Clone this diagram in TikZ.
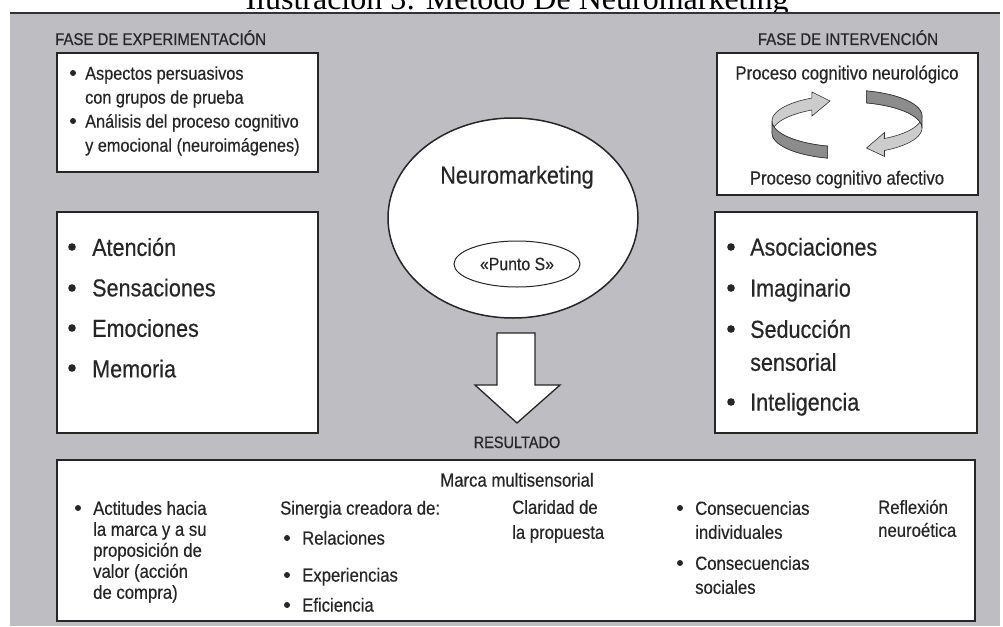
\documentclass[tikz,border=0pt]{standalone}
\usepackage{fontspec}
\setmainfont{Liberation Sans}[FakeStretch=0.88, FakeBold=0.4]
\newfontfamily\titfont{Liberation Serif}
\usepackage{tikz}
\usetikzlibrary{shapes.geometric}
\definecolor{panel}{RGB}{189,189,194}
\tikzset{hd/.style={font=\fontsize{17}{17}\selectfont, inner sep=0pt, text=black!85}}
\tikzset{lg/.style={font=\fontsize{24.5}{40.5}\selectfont, inner sep=0pt, align=left, text=black!85}}
\tikzset{md/.style={font=\fontsize{18.5}{24}\selectfont, inner sep=0pt, align=left, text=black!85}}
\tikzset{sm/.style={font=\fontsize{19}{24}\selectfont, inner sep=0pt, align=left, text=black!85}}
\tikzset{bx/.style={draw=black!85, line width=1.6pt, fill=white}}
\tikzset{rib/.style={draw=black!80, line width=0.6pt}}

\begin{document}
\begin{tikzpicture}[x=1pt,y=-1pt]
      \useasboundingbox (0,0) rectangle (1003,626);
      \node[font=\titfont\fontsize{32}{32}\selectfont, anchor=base] (tit) at (517,10)
        {Ilustración 3: Método De Neuromarketing};
      \fill[panel] (10,13) rectangle (1000,626);
      \draw[black!80, line width=1.2pt] (10,13) -- (1000,13);
      % fases
      \node[hd, anchor=base west] (fexp) at (55,45) {FASE DE EXPERIMENTACIÓN};
      \node[hd, anchor=base] (fint) at (848,45) {FASE DE INTERVENCIÓN};
      \draw[bx] (57,53) rectangle (318,172);
      \node[md, anchor=north west] (asp) at (85,62.7) {\strut Aspectos persuasivos\\con grupos de prueba};
      \node[md, anchor=north west] (ana) at (85,110.7) {\strut Análisis del proceso cognitivo\\y emocional (neuroimágenes)};
      \foreach \y in {73,121} \fill[black!85] (73,\y) circle (3);
      \draw[bx] (717,53) rectangle (978,195);
      \node[md, font=\fontsize{19}{24}\selectfont, anchor=base] (pneu) at (847,79.5) {Proceso cognitivo neurológico};
      \node[md, font=\fontsize{19}{24}\selectfont, anchor=base] (pafe) at (847,184.5) {Proceso cognitivo afectivo};
      % circular arrows
      \fill[black!20, rib] plot[domain=105:242, samples=30] ({847+75*cos(\x)},{127+26*sin(\x)-6})
        -- (812,92) -- (830,101) -- (812,116)
        -- plot[domain=242:105, samples=30] ({847+75*cos(\x)},{127+26*sin(\x)+6}) -- cycle;
      \fill[black!45, rib] plot[domain=105:180, samples=20] ({847+75*cos(\x)},{127+26*sin(\x)-6})
        -- plot[domain=180:105, samples=20] ({847+75*cos(\x)},{127+26*sin(\x)+6}) -- cycle;
      \fill[black!20, rib] plot[domain=285:420, samples=30] ({847+75*cos(\x)},{122+26*sin(\x)-6})
        -- (884.5,132.5) -- (866.5,148) -- (884.5,156.5)
        -- plot[domain=420:285, samples=30] ({847+75*cos(\x)},{122+26*sin(\x)+6}) -- cycle;
      \fill[black!45, rib] plot[domain=285:360, samples=20] ({847+75*cos(\x)},{122+26*sin(\x)-6})
        -- plot[domain=360:285, samples=20] ({847+75*cos(\x)},{122+26*sin(\x)+6}) -- cycle;
      % listas
      \draw[bx] (57,212) rectangle (318,433);
      \node[lg, anchor=north west] (expl) at (92,227.3) {\strut Atención\\Sensaciones\\Emociones\\Memoria};
      \foreach \y in {247,288,328,368} \fill[black!85] (72,\y) circle (3.8);
      \draw[bx] (715,212) rectangle (977,433);
      \node[lg, anchor=base west] (aso) at (750,255.6) {Asociaciones};
      \node[lg, anchor=base west] (ima) at (750,296.6) {Imaginario};
      \node[lg, font=\fontsize{24.5}{33}\selectfont, anchor=north west] (sed) at (750,314.5) {\strut Seducción\\sensorial};
      \node[lg, anchor=base west] (int) at (750,410.6) {Inteligencia};
      \foreach \y in {247,288,329,402} \fill[black!85] (731,\y) circle (3.8);
      % neuromarketing
      \node[draw=black!85, ellipse, line width=1.5pt, fill=white, minimum width=250, minimum height=200] (neuro) at (513,218) {};
      \node[lg, anchor=base] (nm) at (517,183.6) {Neuromarketing};
      \node[draw=black!85, ellipse, line width=1pt, minimum width=126, minimum height=46, inner sep=0pt,
        font=\fontsize{18}{18}\selectfont, text=black!85] (punto) at (517,264) {«Punto S»};
      \draw[bx, line width=1.3pt] (497,333) -- (535,333) -- (535,385) -- (560,385) -- (517,423)
        -- (475,385) -- (497,385) -- cycle;
      \node[hd, font=\fontsize{16.5}{16.5}\selectfont, anchor=base] (res) at (517,448) {RESULTADO};
      % resultado
      \draw[bx] (57,460) rectangle (975,621);
      \node[sm, anchor=base] (marca) at (517,486.6) {Marca multisensorial};
      \node[sm, font=\fontsize{19}{21}\selectfont, anchor=north west] (act) at (93,499.9)
        {\strut Actitudes hacia\\la marca y a su\\proposición de\\valor (acción\\de compra)};
      \fill[black!85] (78,508) circle (3);
      \node[sm, anchor=base west] (sin) at (280,514.6) {Sinergia creadora de:};
      \node[sm, anchor=base west] (rel) at (302,544.6) {Relaciones};
      \node[sm, anchor=base west] (expe) at (302,581.6) {Experiencias};
      \node[sm, anchor=base west] (efi) at (302,611.6) {Eficiencia};
      \foreach \y in {538,575,605} \fill[black!85] (287,\y) circle (3);
      \node[sm, font=\fontsize{19}{25}\selectfont, anchor=north west] (cla) at (512,496.1) {\strut Claridad de\\la propuesta};
      \node[sm, anchor=north west] (cind) at (695,497.8) {\strut Consecuencias\\individuales};
      \node[sm, anchor=north west] (csoc) at (695,552.8) {\strut Consecuencias\\sociales};
      \foreach \y in {508,563} \fill[black!85] (680,\y) circle (3);
      \node[sm, font=\fontsize{19}{23}\selectfont, anchor=north west] (ref) at (878,497.5) {\strut Reflexión\\neuroética};
\end{tikzpicture}
\end{document}
